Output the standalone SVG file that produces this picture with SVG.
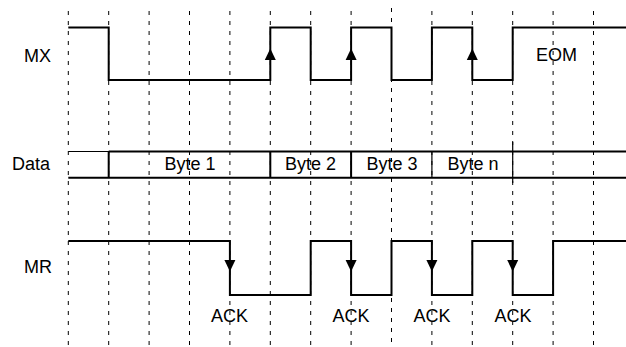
<svg xmlns="http://www.w3.org/2000/svg" width="626" height="347" viewBox="0 0 626 347">
<style>
.grid line{stroke:#000;stroke-width:1;stroke-dasharray:4,6}
.sig{fill:none;stroke:#000;stroke-width:2}
.thin{fill:none;stroke:#000;stroke-width:1.2}
text{font-family:"Liberation Sans",Arial,sans-serif;font-size:18px;fill:#000}
.c{text-anchor:middle}
.arrow{fill:#000}
</style>
<rect width="626" height="347" fill="#fff"/>
<g id="grid" class="grid">
<line x1="68.3" y1="11" x2="68.3" y2="347"/>
<line x1="108.7" y1="11" x2="108.7" y2="347"/>
<line x1="149.1" y1="11" x2="149.1" y2="347"/>
<line x1="189.5" y1="11" x2="189.5" y2="347"/>
<line x1="229.9" y1="11" x2="229.9" y2="347"/>
<line x1="270.3" y1="11" x2="270.3" y2="347"/>
<line x1="310.7" y1="11" x2="310.7" y2="347"/>
<line x1="351.1" y1="11" x2="351.1" y2="347"/>
<line x1="391.5" y1="8" x2="391.5" y2="347"/>
<line x1="431.9" y1="11" x2="431.9" y2="347"/>
<line x1="472.3" y1="11" x2="472.3" y2="347"/>
<line x1="512.7" y1="11" x2="512.7" y2="347"/>
<line x1="553.1" y1="11" x2="553.1" y2="347"/>
<line x1="593.5" y1="11" x2="593.5" y2="347"/>
</g>
<g id="labels">
<text x="24" y="62">MX</text>
<text x="12" y="170">Data</text>
<text x="24" y="273">MR</text>
</g>
<g id="MX">
<path class="sig" d="M68.3,27.5 H108.7 V80 H270.3 V27.5 H310.7 V80 H351.1 V27.5 H391.5 V80 H431.9 V27.5 H472.3 V80 H512.7 V27.5 H626"/>
<path class="arrow" d="M270.3,48.5 L264.8,60 L275.8,60 Z"/>
<path class="arrow" d="M351.1,48.5 L345.6,60 L356.6,60 Z"/>
<path class="arrow" d="M472.3,48.5 L466.8,60 L477.8,60 Z"/>
<text class="c" x="556.5" y="61">EOM</text>
</g>
<g id="Data">
<path class="thin" d="M68.3,151.5 H108.7"/>
<path class="sig" d="M108.7,151.5 H626 M68.3,177.7 H626 M108.7,151.5 V177.7 M270.3,151.5 V177.7 M351.1,151.5 V177.7"/>
<path class="thin" d="M431.9,151.5 V177.7 M512.7,142 V183"/>
<text class="c" x="190" y="170">Byte 1</text>
<text class="c" x="310.5" y="170">Byte 2</text>
<text class="c" x="392" y="170">Byte 3</text>
<text class="c" x="473" y="170">Byte n</text>
</g>
<g id="MR">
<path class="sig" d="M68.3,241 H229.9 V295 H310.7 V241 H351.1 V295 H391.5 V241 H431.9 V295 H472.3 V241 H512.7 V295 H553.1 V241 H626"/>
<path class="arrow" d="M229.9,271.5 L224.4,260 L235.4,260 Z"/>
<path class="arrow" d="M351.1,271.5 L345.6,260 L356.6,260 Z"/>
<path class="arrow" d="M431.9,271.5 L426.4,260 L437.4,260 Z"/>
<path class="arrow" d="M512.7,271.5 L507.2,260 L518.2,260 Z"/>
<text class="c" x="229.5" y="322">ACK</text>
<text class="c" x="351" y="322">ACK</text>
<text class="c" x="432" y="322">ACK</text>
<text class="c" x="513" y="322">ACK</text>
</g>
</svg>
